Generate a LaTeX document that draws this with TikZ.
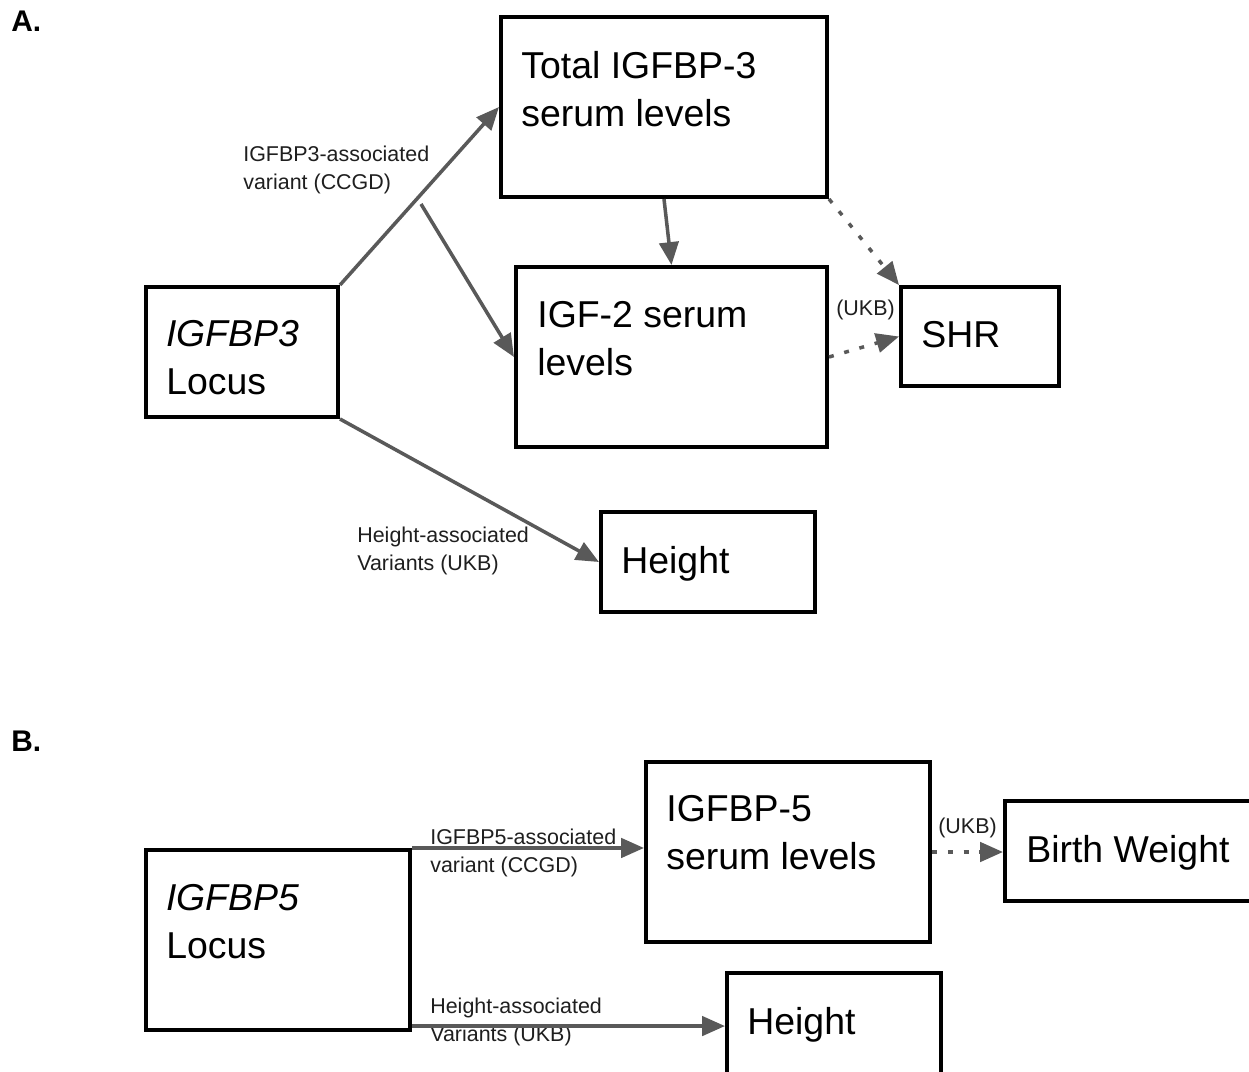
\documentclass[tikz,border=0pt]{standalone}
\usepackage{fontspec}
\setmainfont{Liberation Sans}
\usetikzlibrary{arrows.meta,fit}
\definecolor{arrgray}{HTML}{595959}
\begin{document}
\begin{tikzpicture}[x=0.02cm,y=-0.02cm,
  box/.style={draw=black, line width=2.3pt, inner sep=0pt},
  big/.style={font=\fontsize{21.3}{27.2}\selectfont, align=left, inner sep=0pt},
  lab/.style={font=\fontsize{12.2}{15.9}\selectfont, align=left, inner sep=0pt, text=black!88},
  panel/.style={font=\bfseries\fontsize{17}{20}\selectfont, inner sep=0pt},
  arr/.style={draw=arrgray, line width=2pt, -{Triangle[length=13pt,width=11pt]}},
  dotarr/.style={arr, dash pattern=on 2.8pt off 6.2pt}]
\useasboundingbox (0,0) rectangle (1249,1072);
\fill[white] (0,0) rectangle (1249,1072);
\clip (0,0) rectangle (1249,1072);

% panel labels
\node[panel, anchor=west] (pA) at (11,21) {A.};
\node[panel, anchor=west] (pB) at (11,741) {B.};

% boxes, panel A
\node[box, fit={(501,17)(827,197)}] (tot) {};
\node[box, fit={(516,267)(827,447)}] (igf) {};
\node[box, fit={(901,287)(1059,386)}] (shr) {};
\node[box, fit={(146,287)(338,417)}] (locA) {};
\node[box, fit={(601,512)(815,612)}] (hA) {};
% boxes, panel B
\node[box, fit={(146,850)(410,1030)}] (locB) {};
\node[box, fit={(646,762)(930,942)}] (ig5) {};
\node[box, fit={(1005,801)(1262,901)}] (bw) {};
\node[box, fit={(727,973)(941,1090)}] (hB) {};

% box texts
\node[big, anchor=west] (ttot) at (521,89) {Total IGFBP-3\\serum levels};
\node[big, anchor=west] (tigf) at (537,339) {IGF-2 serum\\levels};
\node[big, anchor=base west] (tshr) at (921,347) {SHR};
\node[big, anchor=west] (tlocA) at (166,358) {\itshape IGFBP3\\Locus};
\node[big, anchor=base west] (thA) at (621,573) {Height};
\node[big, anchor=west] (tlocB) at (166,922) {\itshape IGFBP5\\Locus};
\node[big, anchor=west] (tig5) at (666,833) {IGFBP-5\\serum levels};
\node[big, anchor=base west] (tbw) at (1026,862) {Birth Weight};
\node[big, anchor=base west] (thB) at (747,1034) {Height};

% connector labels
\node[lab, anchor=west] (l1) at (243,170) {IGFBP3-associated\\variant (CCGD)};
\node[lab, anchor=base west] (l2) at (836,315) {(UKB)};
\node[lab, anchor=west] (l3) at (357,551) {Height-associated\\Variants (UKB)};
\node[lab, anchor=west] (l4) at (430,853) {IGFBP5-associated\\variant (CCGD)};
\node[lab, anchor=base west] (l5) at (938,833) {(UKB)};
\node[lab, anchor=west] (l6) at (430,1022) {Height-associated\\Variants (UKB)};

% connectors, panel A
\coordinate (br) at (421,204);
\draw[arr] (locA.north east) -- (tot.west);
\draw[arr] (br) -- (igf.west);
\draw[arr] (tot.south) -- (igf.north);
\draw[dotarr] (tot.south east) -- (shr.north west);
\draw[dotarr] (igf.east) -- (shr.west);
\draw[arr] (locA.south east) -- (hA.west);
% connectors, panel B
\draw[arr] (locB.north east) -- (locB.north east -| ig5.west);
\draw[arr] ([yshift=3.4pt]locB.south east) -- ([yshift=3.4pt]locB.south east -| hB.west);
\draw[dotarr] (ig5.east) -- (ig5.east -| bw.west);
\end{tikzpicture}
\end{document}
